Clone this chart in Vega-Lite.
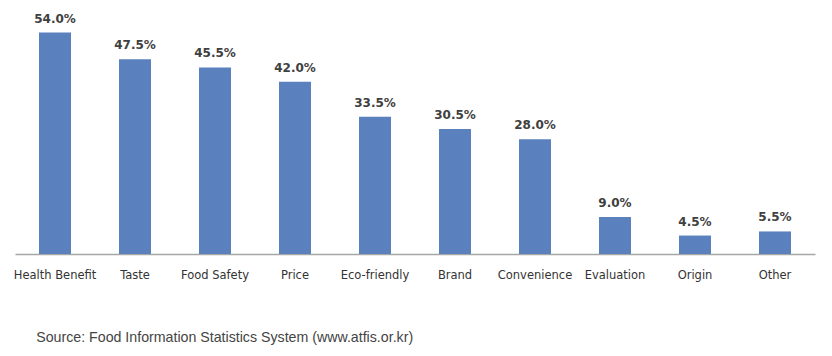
{
  "$schema": "https://vega.github.io/schema/vega-lite/v6.json",
  "width": 800,
  "height": 246,
  "autosize": {"type": "none"},
  "padding": {"left": 15, "top": 8, "right": 17, "bottom": 102},
  "background": "white",
  "config": {"view": {"stroke": null}, "font": "DejaVu Sans"},
  "title": {
    "text": "Source: Food Information Statistics System (www.atfis.or.kr)",
    "orient": "bottom",
    "anchor": "start",
    "dx": 23,
    "offset": 50,
    "font": "Liberation Sans",
    "fontSize": 14.2,
    "fontWeight": "normal",
    "color": "#444444"
  },
  "data": {
    "values": [
      {"factor": "Health Benefit", "share": 0.540},
      {"factor": "Taste", "share": 0.475},
      {"factor": "Food Safety", "share": 0.455},
      {"factor": "Price", "share": 0.420},
      {"factor": "Eco-friendly", "share": 0.335},
      {"factor": "Brand", "share": 0.305},
      {"factor": "Convenience", "share": 0.280},
      {"factor": "Evaluation", "share": 0.090},
      {"factor": "Origin", "share": 0.045},
      {"factor": "Other", "share": 0.055}
    ]
  },
  "encoding": {
    "x": {
      "field": "factor",
      "type": "nominal",
      "sort": null,
      "scale": {"paddingInner": 0.6, "paddingOuter": 0.3},
      "axis": {
        "title": null,
        "labelAngle": 0,
        "ticks": false,
        "labelPadding": 15,
        "labelFontSize": 11.5,
        "labelColor": "#333333",
        "labelFont": "DejaVu Sans",
        "domainColor": "#a6a6a6",
        "domainWidth": 1.5
      }
    },
    "y": {
      "field": "share",
      "type": "quantitative",
      "scale": {"domain": [0, 0.6], "nice": false},
      "axis": null
    }
  },
  "layer": [
    {"mark": {"type": "bar", "color": "#5a80bd"}},
    {
      "mark": {"type": "text", "dy": -14, "fontSize": 12, "fontWeight": "bold", "color": "#404040", "font": "DejaVu Sans"},
      "encoding": {"text": {"field": "share", "type": "quantitative", "format": ".1%"}}
    }
  ]
}
